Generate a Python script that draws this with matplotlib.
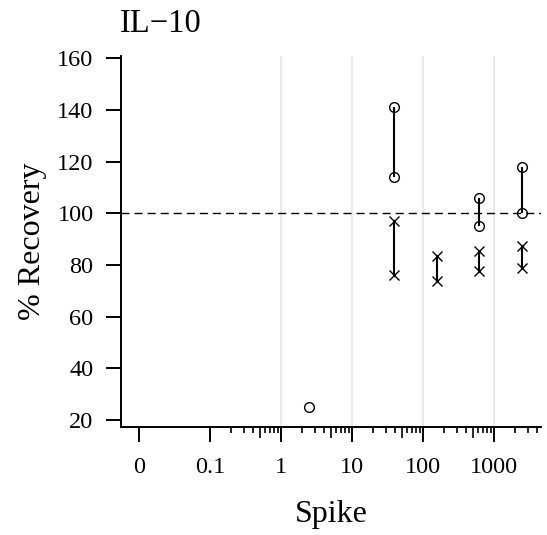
import numpy as np
import matplotlib
matplotlib.use("Agg")
import matplotlib.pyplot as plt
from matplotlib.ticker import FixedLocator, NullFormatter

# ---- data ----
spike = [2.44, 39.06, 156.25, 625, 2500]
circ_hi = [25, 141, np.nan, 106, 118]
circ_lo = [np.nan, 114, np.nan, 95, 100]
cross_hi = [np.nan, 97, 83.5, 85.5, 87.5]
cross_lo = [np.nan, 76, 74, 77.7, 78.8]
ref_line = 100

xtick_pos = [0.01, 0.1, 1, 10, 100, 1000]
xtick_lab = ["0", "0.1", "1", "10", "100", "1000"]
minor_pos = [m * d for d in [0.1, 1, 10, 100] for m in [2, 3, 4, 6, 7, 8, 9]] + [2000, 3000, 4000]
mid_pos = [0.5, 5, 50, 500]
grid_pos = [1, 10, 100, 1000]
ytick_pos = [20, 40, 60, 80, 100, 120, 140, 160]

plt.rcParams["font.family"] = ["Liberation Serif", "DejaVu Serif"]

W, H = 547, 535
fig = plt.figure(figsize=(W / 100, H / 100), dpi=100)
ax = fig.add_axes([121 / W, 1 - 427 / H, 420 / W, (427 - 55.7) / H])

ax.set_xscale("log")
ax.set_xlim(0.00557, 4600)
ax.set_ylim(17.37, 161.0)

for g in grid_pos:
    ax.axvline(g, color="#e8e8e8", lw=1.2, zorder=0)
ax.axhline(ref_line, color="black", lw=1.0, linestyle=(0, (5.8, 3.6)), zorder=1)

sp = np.array(spike)
ch, cl = np.array(circ_hi), np.array(circ_lo)
xh, xl = np.array(cross_hi), np.array(cross_lo)
m = ~np.isnan(ch) & ~np.isnan(cl)
ax.vlines(sp[m], cl[m], ch[m], color="black", lw=1.5, zorder=2)
m = ~np.isnan(xh) & ~np.isnan(xl)
ax.vlines(sp[m], xl[m], xh[m], color="black", lw=1.5, zorder=2)

ax.plot(sp, ch, "o", ls="none", ms=7, mfc="none", mec="black", mew=1.0, zorder=3)
ax.plot(sp, cl, "o", ls="none", ms=7, mfc="none", mec="black", mew=1.0, zorder=3)
ax.plot(sp, xh, "x", ls="none", ms=7.5, mec="black", mew=1.0, zorder=3)
ax.plot(sp, xl, "x", ls="none", ms=7.5, mec="black", mew=1.0, zorder=3)

for s in ["top", "right"]:
    ax.spines[s].set_visible(False)
for s in ["left", "bottom"]:
    ax.spines[s].set_linewidth(1.4)

ax.xaxis.set_major_locator(FixedLocator(xtick_pos))
ax.set_xticklabels(xtick_lab)
ax.xaxis.set_minor_locator(FixedLocator(minor_pos))
ax.xaxis.set_minor_formatter(NullFormatter())
ax.set_yticks(ytick_pos)
ax.tick_params(axis="both", which="major", length=10.8, width=1.4, labelsize=17.5, direction="out")
ax.tick_params(axis="x", which="major", pad=10.5)
ax.tick_params(axis="y", which="major", pad=9)
ax.tick_params(axis="x", which="minor", length=4.5, width=1.2, direction="out")

# medium-length ticks at the fives
ax2 = ax.twiny()
ax2.set_xscale("log")
ax2.set_xlim(ax.get_xlim())
for s in ax2.spines.values():
    s.set_visible(False)
ax2.xaxis.set_ticks_position("bottom")
ax2.xaxis.set_major_locator(FixedLocator(mid_pos))
ax2.xaxis.set_minor_locator(FixedLocator([]))
ax2.xaxis.set_major_formatter(NullFormatter())
ax2.tick_params(axis="x", which="major", length=8, width=1.2, direction="out",
                bottom=True, top=False, labelbottom=False, labeltop=False)

fig.text(120 / W, 1 - 32 / H, "IL\u221210", fontsize=23.5, ha="left", va="baseline")
fig.text(33 / W, 1 - 241 / H, "% Recovery", fontsize=23, rotation=90, ha="center", va="center")
fig.text(331 / W, 1 - 522 / H, "Spike", fontsize=23, ha="center", va="baseline")

fig.savefig("out.png", dpi=100, facecolor="white")
